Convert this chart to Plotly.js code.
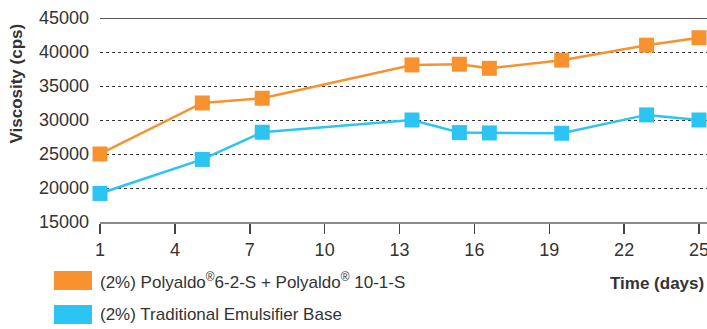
<!DOCTYPE html>
<html>
<head>
<meta charset="utf-8">
<script src="https://cdn.plot.ly/plotly-3.0.1.min.js"></script>
<style>
html,body{margin:0;padding:0;background:#fff;}
#chart{width:707px;height:329px;}
</style>
</head>
<body>
<div id="chart"></div>
<script>
// Data
const days = [1, 5.1, 7.5, 13.5, 15.4, 16.6, 19.5, 22.9, 25];
const polyaldoViscosity = [25000, 32500, 33200, 38100, 38200, 37600, 38800, 41000, 42100];
const traditionalViscosity = [19200, 24200, 28200, 30000, 28150, 28100, 28050, 30750, 30000];
const seriesNames = ["(2%) Polyaldo<sup>®</sup>6-2-S + Polyaldo<sup>®</sup> 10-1-S", "(2%) Traditional Emulsifier Base"];
const seriesColors = ["#F7922F", "#2CC4F2"];
const xTickVals = [1, 4, 7, 10, 13, 16, 19, 22, 25];
const yTickVals = [15000, 20000, 25000, 30000, 35000, 40000, 45000];

const FONT = "'Liberation Sans', Arial, sans-serif";
const TXT = "#333333";

const ySeries = [polyaldoViscosity, traditionalViscosity];
const traces = ySeries.map((ys, i) => ({
  type: "scatter",
  mode: "lines+markers",
  x: days,
  y: ys,
  name: seriesNames[i],
  line: {color: seriesColors[i], width: 2.5},
  marker: {symbol: "square", size: 15, color: seriesColors[i]},
  cliponaxis: false,
  showlegend: false
}));

const PB = 222, PH = 204, PL = 100, PW = 607;
// legend drawn as swatches + text in paper coords
const shapes = [
  {type: "line", xref: "paper", yref: "y", x0: 0, x1: 1, y0: 45000, y1: 45000,
   line: {color: "#222", width: 1.5}, layer: "above"}
];
const annotations = [
  {text: "Viscosity (cps)", xref: "paper", yref: "paper", textangle: -90,
   x: -0.138, y: 0.68, xanchor: "center", yanchor: "middle", showarrow: false,
   font: {family: FONT, size: 17, color: TXT, weight: "bold"}},
  {text: "Time (days)", xref: "paper", yref: "paper", x: 1, y: (PB - 283) / PH,
   xanchor: "right", yanchor: "middle", showarrow: false, xshift: -1,
   font: {family: FONT, size: 17, color: TXT, weight: "bold"}}
];
const legendTop = [271, 305];
seriesNames.forEach((nm, i) => {
  shapes.push({type: "rect", xref: "paper", yref: "paper",
    x0: (54 - PL) / PW, x1: (92 - PL) / PW,
    y0: (PB - legendTop[i] - 19) / PH, y1: (PB - legendTop[i]) / PH,
    fillcolor: seriesColors[i], line: {width: 0}});
  annotations.push({text: nm, xref: "paper", yref: "paper",
    x: 0, y: (PB - legendTop[i] - 9.5) / PH,
    xanchor: "left", yanchor: "middle", showarrow: false, xshift: -2,
    font: {family: FONT, size: 17, color: TXT}});
});

const layout = {
  width: 707, height: 329,
  margin: {l: 100, r: 0, t: 18, b: 107},
  paper_bgcolor: "#fff", plot_bgcolor: "#fff",
  showlegend: false,
  xaxis: {
    range: [1, 25.32], tickvals: xTickVals, ticktext: xTickVals.map(String),
    showgrid: false, zeroline: false,
    showline: true, linecolor: "#8a8a8a", linewidth: 2,
    ticks: "outside", ticklen: 10, tickwidth: 1.5, tickcolor: "#444",
    ticklabeloverflow: "allow",
    tickfont: {family: FONT, size: 18, color: TXT}
  },
  yaxis: {
    range: [15000, 45000], tickvals: yTickVals, ticktext: yTickVals.map(String),
    showgrid: true, gridcolor: "#333", gridwidth: 1, griddash: "3px,3px",
    zeroline: false, showline: false, ticks: "",
    ticklabelstandoff: 10,
    tickfont: {family: FONT, size: 18, color: TXT}
  },
  shapes: shapes,
  annotations: annotations
};

Plotly.newPlot("chart", traces, layout, {displayModeBar: false, staticPlot: true});
</script>
</body>
</html>
